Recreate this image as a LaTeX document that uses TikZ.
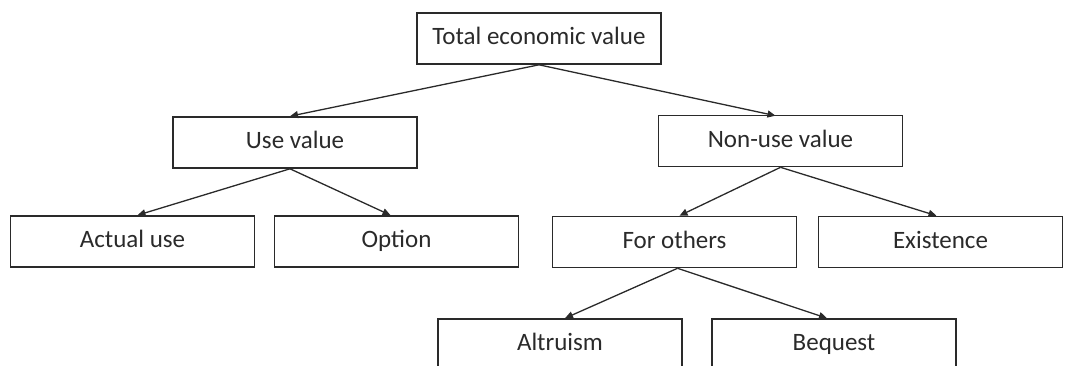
\documentclass[tikz,border=0pt]{standalone}
\usepackage{fontspec}
\setmainfont{Carlito}
\usetikzlibrary{arrows.meta}
\definecolor{ink}{HTML}{2A2A2A}
\tikzset{
  box/.style={draw=ink, line width=1.6pt, minimum width=244pt, minimum height=51pt,
    inner sep=0pt, text height=17pt, text depth=5pt,
    font=\fontsize{25pt}{28pt}\selectfont, text=ink},
  link/.style={draw=ink, line width=1.3pt, -{Triangle[length=8pt,width=7pt]}}
}
\begin{document}
\begin{tikzpicture}[x=1pt,y=-1pt]
\useasboundingbox (0,0) rectangle (1068,365);
\clip (0,0) rectangle (1068,365);
\node[box] (tev) at (539,38.5) {Total economic value};
\node[box] (use) at (295,142.5) {Use value};
\node[box] (non) at (780.5,141) {Non-use value};
\node[box] (act) at (132.5,241.5) {Actual use};
\node[box] (opt) at (396.5,241.5) {Option};
\node[box] (oth) at (674.5,242) {For others};
\node[box] (exi) at (940.5,242) {Existence};
\node[box] (alt) at (560,344.5) {Altruism};
\node[box] (beq) at (834,344.5) {Bequest};
\draw[link] (tev.south) -- ([xshift=-5pt]use.north);
\draw[link] (tev.south) -- ([xshift=-5pt,yshift=-1pt]non.north);
\draw[link] ([xshift=-5pt]use.south) -- ([xshift=5pt]act.north);
\draw[link] ([xshift=-5pt]use.south) -- ([xshift=-6pt]opt.north);
\draw[link] (non.south) -- ([xshift=5pt]oth.north);
\draw[link] (non.south) -- ([xshift=-4pt]exi.north);
\draw[link] ([xshift=3pt]oth.south) -- ([xshift=5pt]alt.north);
\draw[link] ([xshift=3pt]oth.south) -- ([xshift=-7pt]beq.north);
\end{tikzpicture}
\end{document}
